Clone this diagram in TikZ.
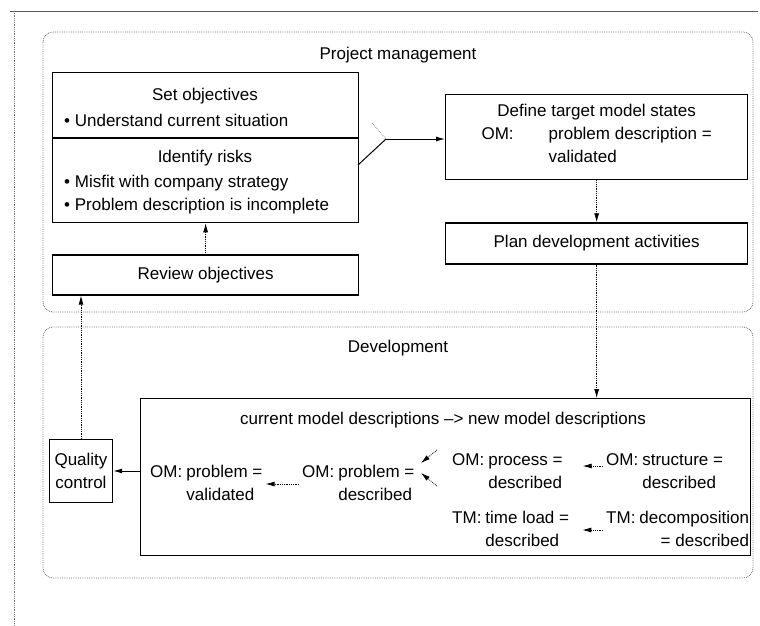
\documentclass[tikz,border=0pt]{standalone}
\usepackage{fontspec}
\setmainfont{Liberation Sans}
\usetikzlibrary{arrows.meta}

\newcommand{\mstate}[3]{\begin{tabular}{@{}l@{\hspace{4pt}}l@{}}#1 & #2\\ & #3\end{tabular}}

\begin{document}
\begin{tikzpicture}[x=1pt,y=-1pt,
  font=\fontsize{17}{23}\selectfont,
  box/.style={draw,line width=1.3pt,inner sep=0pt},
  region/.style={draw=black!55,densely dotted,line width=0.8pt,rounded corners=10pt},
  flow/.style={densely dotted,line width=0.8pt,-{Latex[length=9pt,width=5pt]}},
  solidflow/.style={line width=1pt,-{Latex[length=9pt,width=5pt]}},
  txt/.style={inner sep=0pt},
  state/.style={inner sep=0pt,anchor=west}]
\useasboundingbox (0,0) rectangle (760,625);

% frame of the page
\draw [black!65,line width=1pt] (10,11) -- (758,11);
\draw [black!55,densely dotted,line width=0.8pt] (14,11) -- (14,625);

% the two areas
\draw [region] (43,32) rectangle (753,312);
\draw [region] (43,327) rectangle (753,578);
\node [txt] (pmtitle) at (398,55) {Project management};
\node [txt] (devtitle) at (398,348) {Development};

% project management
\node [box,minimum width=306pt,minimum height=150pt,anchor=north west] (setobj) at (52,72) {};
\draw [line width=1.3pt] (setobj.west |- 0,138) -- (setobj.east |- 0,138);
\node [txt] (objtitle) at (205,96) {Set objectives};
\node [state] (objitem) at (64,120) {\textbullet\ Understand current situation};
\node [txt] (risktitle) at (205,158) {Identify risks};
\node [state,align=left] (riskitems) at (64,195) {\textbullet\ Misfit with company strategy\\\textbullet\ Problem description is incomplete};
\node [box,minimum width=306pt,minimum height=40pt,below=31pt,at=(setobj.south)] (review) {Review objectives};

\node [box,minimum width=302pt,minimum height=85pt,anchor=north west,align=center] (define) at (445,94)
  {Define target model states\\\begin{tabular}[t]{@{}l@{\hspace{35pt}}l@{}}OM: & problem description =\\ & validated\end{tabular}};
\node [box,minimum width=302pt,minimum height=41pt,below=42pt,at=(define.south)] (plan) {Plan development activities};

\coordinate (riskout) at (358,165);
\coordinate (objout) at (372,123);
\coordinate (join) at (386,139);
\draw [line width=1pt] (riskout) -- (join);
\draw [black!45,densely dotted,line width=0.8pt] (objout) -- (join);
\draw [solidflow] (join) -- (join -| define.west);
\draw [flow] (review) -- (setobj);
\draw [flow] (define) -- (plan);

% development
\node [box,minimum width=610pt,minimum height=157pt,anchor=north west] (devbox) at (140,398) {};
\node [txt] (devhead) at (443,420) {current model descriptions \textendash> new model descriptions};
\node [box,minimum width=63pt,minimum height=63pt,align=center] (qc) at (81,471) {Quality\\control};

\node [state] (validated) at (150,484) {\mstate{OM:}{problem =}{validated}};
\node [state] (described) at (302,484) {\mstate{OM:}{problem =}{described}};
\node [state] (process) at (452,472) {\mstate{OM:}{process =}{described}};
\node [state] (structure) at (606,472) {\mstate{OM:}{structure =}{described}};
\node [state] (timeload) at (452,530) {\mstate{TM:}{time load =}{described}};
\node [state] (decomp) at (606,530) {\begin{tabular}{@{}l@{\hspace{4pt}}r@{}}TM: & decomposition\\ & = described\end{tabular}};

\coordinate (forkup) at (437,450);
\coordinate (forkdown) at (437,486);
\coordinate (tipup) at (421,463);
\coordinate (tipdown) at (421,473);

\draw [flow] (plan) -- (plan |- devbox.north);
\draw [solidflow] (devbox.west |- qc) -- (qc);
\draw [flow] (qc) -- (qc |- review.south);
\draw [flow,shorten <=3pt,shorten >=3pt] (described) -- (validated);
\draw [flow,shorten <=3pt,shorten >=20pt] ([yshift=6pt]structure.west) -- ([yshift=6pt]process.east);
\draw [flow,shorten <=3pt,shorten >=13pt] (decomp) -- (timeload);
\draw [flow] (forkup) -- (tipup);
\draw [flow] (forkdown) -- (tipdown);
\end{tikzpicture}
\end{document}
